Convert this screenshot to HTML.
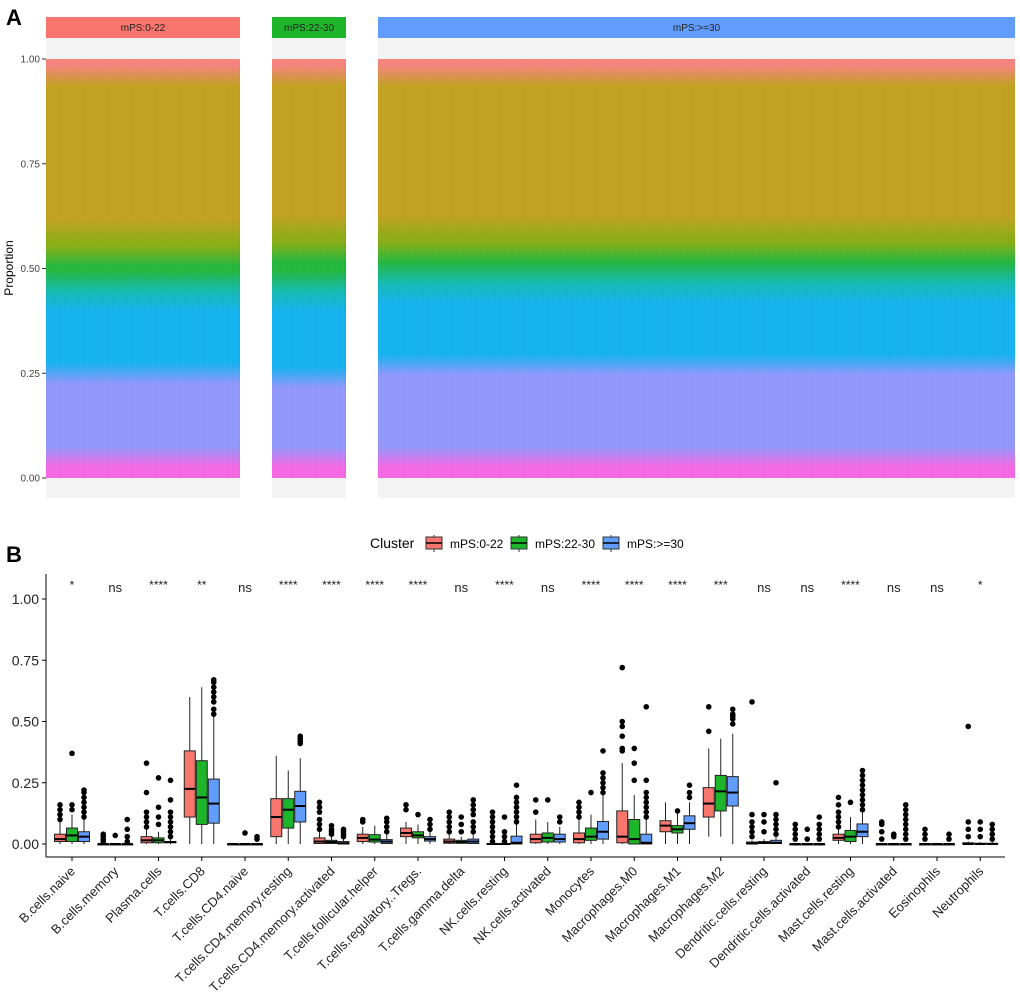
<!DOCTYPE html>
<html><head><meta charset="utf-8"><style>
body{margin:0;background:#fff;}
svg{display:block;font-family:"Liberation Sans",Arial,sans-serif;}
</style></head><body>
<svg id="fig" width="1020" height="1007" viewBox="0 0 1020 1007">
<defs id="defs"></defs>
<text x="6" y="25" font-size="22" font-weight="bold">A</text>
<text x="6" y="562" font-size="22" font-weight="bold">B</text>
<g id="pa"></g>
<g id="pb"></g>
</svg>
<script>
// ---------- Panel A data ----------
const groupNames = ["mPS:0-22","mPS:22-30","mPS:>=30"];
const layerColors = ["#f564e3","#8f95fb","#0fb0f0","#10b8b0","#1fb53a","#8aab10","#bf9f1c","#f5807a"];
const layerNames = ["layer-pink","layer-lavender","layer-lightblue","layer-teal","layer-green","layer-olive","layer-orange","layer-red"];
const compG1 = [0.05,0.20,0.17,0.05,0.06,0.06,0.37,0.04];
const compG2 = [0.05,0.19,0.18,0.05,0.07,0.06,0.36,0.04];
const compG3 = [0.05,0.22,0.17,0.05,0.05,0.06,0.36,0.04];
const aTicks = [0,0.25,0.5,0.75,1];
// ---------- Panel B data ----------
const cats = ["B.cells.naive","B.cells.memory","Plasma.cells","T.cells.CD8","T.cells.CD4.naive","T.cells.CD4.memory.resting","T.cells.CD4.memory.activated","T.cells.follicular.helper","T.cells.regulatory..Tregs.","T.cells.gamma.delta","NK.cells.resting","NK.cells.activated","Monocytes","Macrophages.M0","Macrophages.M1","Macrophages.M2","Dendritic.cells.resting","Dendritic.cells.activated","Mast.cells.resting","Mast.cells.activated","Eosinophils","Neutrophils"];
const sig = ["*","ns","****","**","ns","****","****","****","****","ns","****","ns","****","****","****","***","ns","ns","****","ns","ns","*"];
// [lo,q1,med,q3,hi]
const statsR = [[0,0.01,0.02,0.04,0.09],[0,0,0,0,0],[0,0.005,0.015,0.03,0.06],[0,0.11,0.225,0.38,0.6],[0,0,0,0,0],[0,0.03,0.11,0.185,0.36],[0,0.002,0.01,0.025,0.05],[0,0.01,0.025,0.04,0.07],[0,0.03,0.045,0.065,0.09],[0,0.003,0.01,0.02,0.04],[0,0,0,0.002,0.005],[0,0.005,0.02,0.04,0.1],[0,0.005,0.02,0.045,0.1],[0,0.005,0.03,0.135,0.33],[0,0.05,0.075,0.095,0.17],[0.03,0.11,0.165,0.23,0.39],[0,0,0.002,0.008,0.015],[0,0,0,0,0],[0,0.015,0.025,0.04,0.06],[0,0,0,0,0],[0,0,0,0,0],[0,0,0,0.005,0.01]];
const statsG = [[0,0.01,0.035,0.065,0.12],[0,0,0,0,0],[0,0.005,0.015,0.025,0.05],[0,0.08,0.19,0.34,0.64],[0,0,0,0,0],[0,0.065,0.14,0.185,0.3],[0,0.002,0.008,0.015,0.03],[0,0.008,0.018,0.038,0.075],[0,0.025,0.035,0.05,0.08],[0,0.003,0.008,0.015,0.03],[0,0,0,0.002,0.005],[0,0.008,0.025,0.045,0.09],[0,0.015,0.03,0.065,0.12],[0,0,0.02,0.1,0.2],[0,0.045,0.06,0.075,0.13],[0.03,0.135,0.215,0.28,0.43],[0,0.002,0.005,0.01,0.02],[0,0,0,0,0],[0,0.01,0.03,0.055,0.11],[0,0,0,0,0],[0,0,0,0,0],[0,0,0,0.003,0.008]];
const statsB = [[0,0.01,0.03,0.05,0.1],[0,0,0,0,0],[0,0.005,0.008,0.01,0.02],[0,0.085,0.165,0.265,0.52],[0,0,0,0,0],[0,0.09,0.155,0.215,0.35],[0,0,0.003,0.01,0.02],[0,0.002,0.01,0.018,0.04],[0,0.012,0.02,0.03,0.05],[0,0.002,0.01,0.02,0.04],[0,0,0.005,0.032,0.08],[0,0.008,0.02,0.04,0.07],[0,0.02,0.05,0.092,0.2],[0,0,0.005,0.04,0.1],[0,0.06,0.085,0.115,0.17],[0,0.155,0.21,0.275,0.45],[0,0.002,0.005,0.015,0.03],[0,0,0,0,0],[0,0.03,0.05,0.082,0.135],[0,0,0,0,0],[0,0,0,0,0],[0,0,0,0.003,0.008]];
const outR = [[0.1,0.12,0.14,0.16],[0.01,0.02,0.03,0.04],[0.07,0.09,0.11,0.13,0.21,0.33],[],[],[],[0.06,0.08,0.1,0.13,0.15,0.17],[0.09,0.1],[0.14,0.16],[0.05,0.07,0.09,0.11,0.13],[0.01,0.03,0.05,0.07,0.09,0.11,0.13],[0.13,0.18],[0.11,0.13,0.15,0.17],[0.38,0.39,0.44,0.48,0.5,0.72],[],[0.46,0.56],[0.03,0.05,0.07,0.09,0.12,0.58],[0.02,0.04,0.06,0.08],[0.07,0.09,0.11,0.13,0.16,0.19],[0.02,0.05,0.08,0.09],[0.02,0.04,0.06],[0.03,0.06,0.09,0.48]];
const outG = [[0.14,0.16,0.37],[0.035],[0.08,0.11,0.15,0.27],[],[0.045],[],[0.04,0.05,0.06,0.075],[],[0.12],[0.05,0.08,0.11],[0.01,0.03,0.05,0.11],[0.18],[0.21],[0.26,0.33,0.39],[0.135],[],[0.05,0.09,0.12],[0.02,0.06],[0.17],[0.03,0.04],[],[0.03,0.06,0.09]];
const outB = [[0.11,0.13,0.15,0.17,0.19,0.21,0.22],[0.01,0.03,0.06,0.1],[0.03,0.05,0.07,0.09,0.11,0.13,0.18,0.26],[0.53,0.55,0.58,0.6,0.62,0.64,0.66,0.67],[0.02,0.03],[0.41,0.42,0.43,0.44],[0.03,0.04,0.05,0.06],[0.05,0.07,0.09,0.105],[0.06,0.08,0.1],[0.05,0.07,0.09,0.12,0.14,0.16,0.18],[0.09,0.11,0.13,0.15,0.17,0.19,0.24],[0.09,0.11],[0.21,0.23,0.25,0.27,0.29,0.38],[0.11,0.13,0.15,0.17,0.19,0.21,0.26,0.56],[0.19,0.21,0.24],[0.49,0.51,0.52,0.53,0.55],[0.04,0.06,0.08,0.1,0.12,0.25],[0.02,0.04,0.06,0.08,0.11],[0.14,0.16,0.18,0.2,0.22,0.24,0.26,0.28,0.3],[0.02,0.04,0.06,0.08,0.1,0.12,0.14,0.16],[0.02,0.04],[0.02,0.04,0.06,0.08]];
const bTicks = [0,0.25,0.5,0.75,1];
const groupColors = ["#f8766d","#1fb52a","#619cff"];

const NS="http://www.w3.org/2000/svg";
function mk(parent,tag,attrs,text){const e=document.createElementNS(NS,tag);for(const k in attrs)e.setAttribute(k,attrs[k]);if(text!==undefined)e.textContent=text;parent.appendChild(e);return e;}

// ---- Panel A ----
const pa=document.getElementById('pa');
const defs=document.getElementById('defs');
const ayA=v=>478-v*419;
const panels=[[46,240],[272,346],[378,1015]];
const comps=[compG1,compG2,compG3];
const blend=0.025;
panels.forEach((p,gi)=>{
  const strip=mk(pa,'rect',{x:p[0],y:17,width:p[1]-p[0],height:21,fill:groupColors[gi]});
  
  
  const st=mk(pa,'text',{x:(p[0]+p[1])/2,y:31,'font-size':10,'text-anchor':'middle',fill:'#222'},groupNames[gi]);
  
  
  mk(pa,'rect',{x:p[0],y:38,width:p[1]-p[0],height:21,fill:'#f3f3f3'});
  mk(pa,'rect',{x:p[0],y:478,width:p[1]-p[0],height:20,fill:'#f3f3f3'});
  // gradient (blended layer boundaries), offsets from top (1.0) to bottom (0)
  const grad=mk(defs,'linearGradient',{id:'g'+gi,x1:0,y1:0,x2:0,y2:1});
  let cum=0; const bounds=[];
  comps[gi].forEach(f=>{bounds.push([cum,cum+f]);cum+=f;});
  for(let li=comps[gi].length-1;li>=0;li--){
    const [lo,hi]=bounds[li];
    const top=li===comps[gi].length-1?hi:hi-blend;
    const bot=li===0?lo:lo+blend;
    mk(grad,'stop',{offset:(1-top).toFixed(4),'stop-color':layerColors[li]});
    mk(grad,'stop',{offset:(1-Math.max(bot,lo)).toFixed(4),'stop-color':layerColors[li]});
  }
  const body=mk(pa,'rect',{x:p[0],y:59,width:p[1]-p[0],height:419,fill:`url(#g${gi})`});
  
  
  // thin crisp layers at bottom (pink) for base
  for(let x=p[0]+2;x<p[1];x+=3){mk(pa,'line',{x1:x,x2:x,y1:59,y2:478,stroke:'#ffffff','stroke-opacity':0.13,'stroke-width':0.7});}
});
aTicks.forEach(t=>{
  const y=ayA(t);
  mk(pa,'line',{x1:42,x2:46,y1:y,y2:y,stroke:'#333','stroke-width':1});
  const tl=mk(pa,'text',{x:40,y:y+3.5,'font-size':10,'text-anchor':'end',fill:'#444'},t.toFixed(2));
  
  
});
const yt=mk(pa,'text',{x:0,y:0,'font-size':12,'text-anchor':'middle',transform:'translate(13,268) rotate(-90)'},'Proportion');



// ---- Panel B ----
const pb=document.getElementById('pb');
const ay=v=>844-v*245;
const ax=i=>72+i*43.25;
const lt=mk(pb,'text',{x:370,y:548,'font-size':14},'Cluster');


const legX=[426,511,603];
groupNames.forEach((g,gi)=>{
  const lg=mk(pb,'g',{});
  
  
  mk(lg,'line',{x1:legX[gi]+8,x2:legX[gi]+8,y1:535,y2:552,stroke:'#333'});
  mk(lg,'rect',{x:legX[gi],y:537,width:16,height:12,fill:groupColors[gi],stroke:'#333','stroke-width':1});
  mk(lg,'line',{x1:legX[gi],x2:legX[gi]+16,y1:543,y2:543,stroke:'#000','stroke-width':1.5});
  mk(lg,'text',{x:legX[gi]+24,y:548,'font-size':12},g);
});
mk(pb,'line',{x1:46,x2:46,y1:574,y2:857,stroke:'#000','stroke-width':1});
mk(pb,'line',{x1:46,x2:1005,y1:857,y2:857,stroke:'#000','stroke-width':1});
bTicks.forEach(t=>{
  const y=ay(t);
  mk(pb,'line',{x1:42,x2:46,y1:y,y2:y,stroke:'#000'});
  const tl=mk(pb,'text',{x:39,y:y+5,'font-size':14,'text-anchor':'end',fill:'#222'},t.toFixed(2));
  
  
});
const allStats=[statsR,statsG,statsB], allOut=[outR,outG,outB];
cats.forEach((c,i)=>{
  const cx=ax(i);
  mk(pb,'line',{x1:cx,x2:cx,y1:857,y2:861,stroke:'#000'});
  const xl=mk(pb,'text',{x:0,y:0,'font-size':13,'text-anchor':'end',fill:'#222',transform:`translate(${cx+4},${872}) rotate(-45)`},c);
  
  
  const s=sig[i];
  const sl=mk(pb,'text',{x:cx,y:s==='ns'?592:589,'font-size':s==='ns'?13:12,'text-anchor':'middle',fill:'#222'},s);
  
  
  [-12,0,12].forEach((off,gi)=>{
    const st=allStats[gi][i]; const bx=cx+off;
    const g=mk(pb,'g',{});
    
    
    mk(g,'line',{x1:bx,x2:bx,y1:ay(st[0]),y2:ay(st[4]),stroke:'#222','stroke-width':1});
    mk(g,'rect',{x:bx-5.5,y:ay(st[3]),width:11,height:Math.max(ay(st[1])-ay(st[3]),1),fill:groupColors[gi],stroke:'#222','stroke-width':1});
    mk(g,'line',{x1:bx-5.5,x2:bx+5.5,y1:ay(st[2]),y2:ay(st[2]),stroke:'#000','stroke-width':2});
    allOut[gi][i].forEach(v=>{mk(g,'circle',{cx:bx,cy:ay(v),r:2.8,fill:'#000'});});
  });
});
</script>
</body></html>
